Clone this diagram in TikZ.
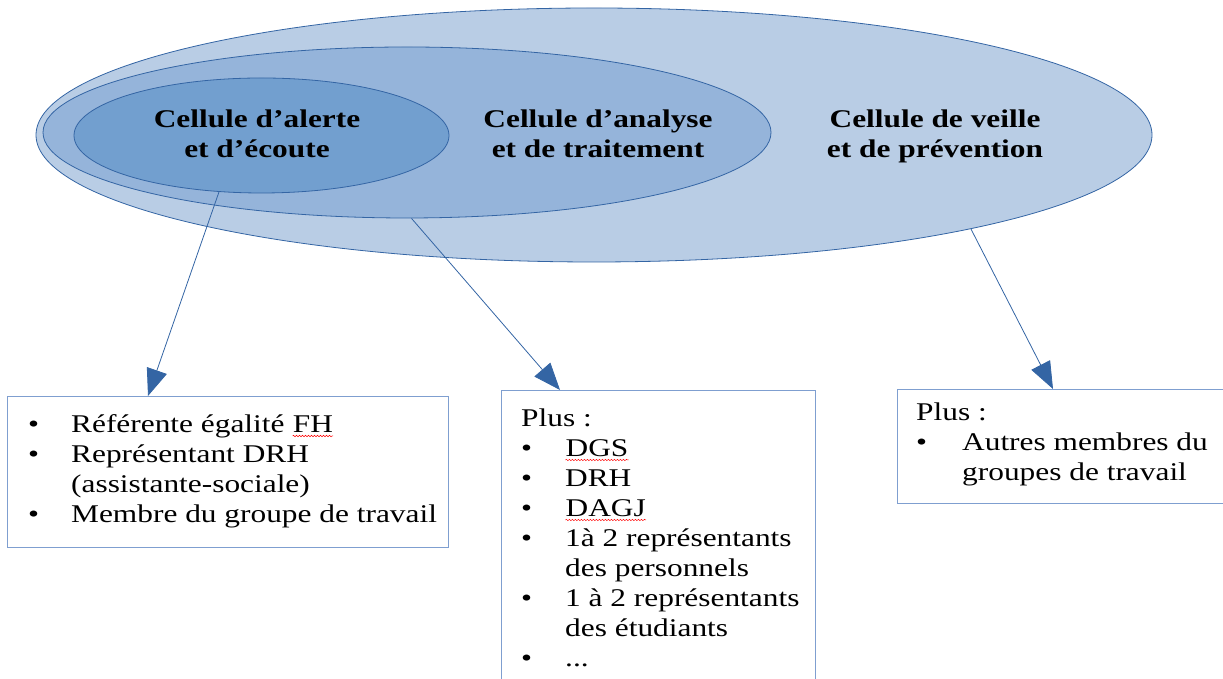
\documentclass[tikz,border=0pt]{standalone}
\usepackage{fontspec}
\setmainfont[FakeStretch=1.23]{Liberation Serif}
\usetikzlibrary{shapes.geometric}
\usetikzlibrary{arrows.meta}
\usetikzlibrary{decorations.pathmorphing}
\definecolor{bleuclair}{HTML}{B9CDE5}
\definecolor{bleumoyen}{HTML}{95B4DA}
\definecolor{bleufonce}{HTML}{729FCF}
\definecolor{trait}{HTML}{3465A4}
\definecolor{bordure}{HTML}{7F9FD0}
\newcommand\souligne[1]{%
     \begin{tikzpicture}[baseline=(mot.base)]
       \node[inner sep=0pt] (mot) {#1};
       \draw[red, line width=0.5pt, decorate, decoration={snake, amplitude=0.7pt, segment length=3pt}]
         ([yshift=-3pt]mot.base west) -- ([yshift=-3pt]mot.base east);
     \end{tikzpicture}%
}
\tikzset{
  cellule/.style={ellipse, draw=trait, line width=0.8pt, inner sep=0pt},
  titre/.style={anchor=base, inner sep=0pt, font={\fontsize{25.5}{30}\selectfont\bfseries}},
  boite/.style={draw=bordure, line width=1pt, anchor=north west, inner sep=0pt},
  liste/.style={anchor=base west, inner sep=0pt, font={\fontsize{25.5}{30}\selectfont}},
  fleche/.style={draw=trait, line width=0.8pt, -{Triangle[length=27pt, width=21pt]}}
}
\begin{document}
\begin{tikzpicture}[x=1pt, y=1pt]
\useasboundingbox (0,0) rectangle (1223,679);
\clip (0,0) rectangle (1223,679);
% les trois cellules
\node[cellule, fill=bleuclair, minimum width=1116pt, minimum height=254pt] (veille) at (594,544) {};
\node[cellule, fill=bleumoyen, minimum width=728pt, minimum height=171pt] (analyse) at (407,546.5) {};
\node[cellule, fill=bleufonce, minimum width=375pt, minimum height=115pt] (alerte) at (261.5,543.5) {};
\node[titre] (t-alerte) at (257,551) {\begin{tabular}[t]{@{}c@{}}Cellule d’alerte\\ et d’écoute\end{tabular}};
\node[titre] (t-analyse) at (598,551) {\begin{tabular}[t]{@{}c@{}}Cellule d’analyse\\ et de traitement\end{tabular}};
\node[titre] (t-veille) at (935,551) {\begin{tabular}[t]{@{}c@{}}Cellule de veille\\ et de prévention\end{tabular}};
% les cadres
\node[boite, minimum width=441pt, minimum height=151pt] (box1) at (7,283) {};
\node[boite, minimum width=314pt, minimum height=320pt] (box2) at (501,289) {};
\node[boite, minimum width=360pt, minimum height=114pt] (box3) at (897,290) {};
\node[liste] (list1) at ([shift={(21pt,-37pt)}]box1.north west) {%
  \begin{tabular}[t]{@{}p{43pt}@{}l@{}}
  \textbullet & Référente égalité \souligne{FH}\\
  \textbullet & Représentant DRH\\
   & (assistante-sociale)\\
  \textbullet & Membre du groupe de travail
  \end{tabular}};
\node[liste] (list2) at ([shift={(20pt,-37pt)}]box2.north west) {%
  \begin{tabular}[t]{@{}p{44pt}@{}l@{}}
  \multicolumn{2}{@{}l@{}}{Plus :}\\
  \textbullet & \souligne{DGS}\\
  \textbullet & DRH\\
  \textbullet & \souligne{DAGJ}\\
  \textbullet & 1à 2 représentants\\
   & des personnels\\
  \textbullet & 1 à 2 représentants\\
   & des étudiants\\
  \textbullet & ...
  \end{tabular}};
\node[liste] (list3) at ([shift={(19pt,-32pt)}]box3.north west) {%
  \begin{tabular}[t]{@{}p{46pt}@{}l@{}}
  \multicolumn{2}{@{}l@{}}{Plus :}\\
  \textbullet & Autres membres du\\
   & groupes de travail
  \end{tabular}};
% les fleches
\draw[fleche] (alerte.-127.7) -- ([xshift=141pt]box1.north west);
\draw[fleche] (analyse.-87.3) -- ([xshift=59pt]box2.north west);
\draw[fleche] (veille.-14.5) -- ([xshift=156pt]box3.north west);
\end{tikzpicture}
\end{document}
